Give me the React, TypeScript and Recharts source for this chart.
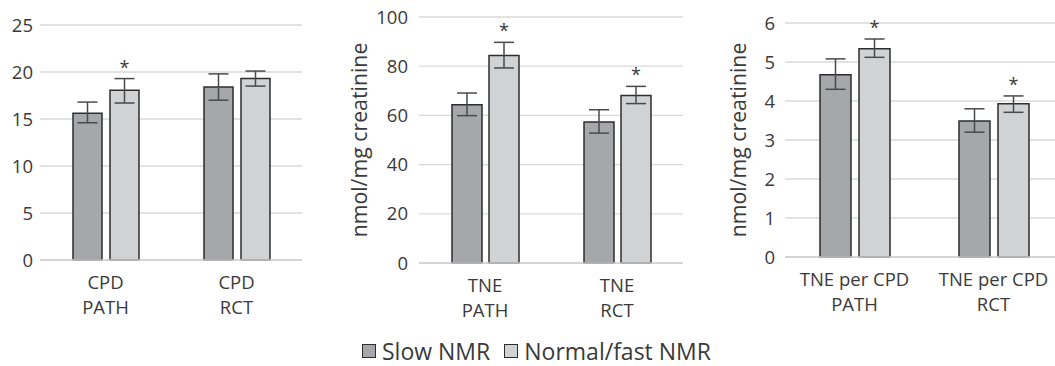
import React from 'react';
import { BarChart, Bar, XAxis, YAxis, CartesianGrid, ErrorBar, LabelList } from 'recharts';

const FONT = '"Open Sans", sans-serif';
const SLOW_COLOR = '#a6a7ab';
const FAST_COLOR = '#d1d2d4';
const EDGE = '#2e2e2e';
const TEXT = '#3a3a3a';

const seriesNames = ['Slow NMR', 'Normal/fast NMR'];

// CPD panel
const cpdCategories = ['CPD\nPATH', 'CPD\nRCT'];
const cpdSlow = [15.6, 18.4];
const cpdSlowErr = [[1.0, 1.2], [1.4, 1.4]];
const cpdFast = [18.05, 19.3];
const cpdFastErr = [[1.35, 1.25], [0.8, 0.8]];
const cpdSig = [true, false];
const cpdTicks = [0, 5, 10, 15, 20, 25];

// TNE panel
const tneCategories = ['TNE\nPATH', 'TNE\nRCT'];
const tneSlow = [64.3, 57.3];
const tneSlowErr = [[4.4, 4.8], [4.5, 5.0]];
const tneFast = [84.3, 68.1];
const tneFastErr = [[5.0, 5.4], [3.3, 3.7]];
const tneSig = [true, true];
const tneTicks = [0, 20, 40, 60, 80, 100];

// TNE per CPD panel
const tpcCategories = ['TNE per CPD\nPATH', 'TNE per CPD\nRCT'];
const tpcSlow = [4.67, 3.49];
const tpcSlowErr = [[0.37, 0.41], [0.29, 0.31]];
const tpcFast = [5.34, 3.93];
const tpcFastErr = [[0.22, 0.25], [0.22, 0.2]];
const tpcSig = [true, true];
const tpcTicks = [0, 1, 2, 3, 4, 5, 6];

type Row = { name: string; slow: number; slowErr: number[]; fast: number; fastErr: number[]; sig: boolean };

const buildRows = (
  cats: string[], slow: number[], slowErr: number[][], fast: number[], fastErr: number[][], sig: boolean[]
): Row[] =>
  cats.map((name, i) => ({ name, slow: slow[i], slowErr: slowErr[i], fast: fast[i], fastErr: fastErr[i], sig: sig[i] }));

const TwoLineTick = (props: any) => {
  const { x, y, payload } = props;
  const lines = String(payload.value).split('\n');
  return (
    <text x={x} y={y} textAnchor="middle" fill={TEXT} fontFamily={FONT} fontSize={18.5}>
      <tspan x={x} dy={21}>{lines[0]}</tspan>
      <tspan x={x} dy={25}>{lines[1]}</tspan>
    </text>
  );
};

// asterisk drawn above the top of the error bar
const Star = (props: any) => {
  const { x, y, width, height, value } = props;
  if (value == null || !isFinite(value)) return null;
  const errTop = y - value * height;
  return (
    <text x={x + width / 2} y={errTop - 5} textAnchor="middle" fill={TEXT} fontFamily={FONT} fontSize={18}>
      *
    </text>
  );
};

const YTitle = (dx: number) => (props: any) => {
  const { viewBox } = props;
  const cx = viewBox.x + dx;
  const cy = viewBox.y + viewBox.height / 2;
  return (
    <text x={cx} y={cy} transform={`rotate(-90, ${cx}, ${cy})`} textAnchor="middle" dominantBaseline="central"
      fill={TEXT} fontFamily={FONT} fontSize={21.3}>
      nmol/mg creatinine
    </text>
  );
};

interface PanelProps {
  rows: Row[];
  ticks: number[];
  left: number;
  width: number;
  yWidth: number;
  top: number;
  bottom: number;
  right: number;
  barSize: number;
  barGap: number;
  tickMargin: number;
  titleX?: number;
}

const Panel: React.FC<PanelProps> = ({ rows, ticks, left, width, yWidth, top, bottom, right, barSize, barGap, tickMargin, titleX }) => (
  <div style={{ position: 'absolute', left, top: 0 }}>
    <BarChart width={width} height={330} data={rows} margin={{ top, right, left: 0, bottom: bottom + 10 }}
      barSize={barSize} barGap={barGap}>
      <CartesianGrid vertical={false} stroke="#d9d9d9" strokeWidth={1.3} />
      <XAxis dataKey="name" height={50} axisLine={{ stroke: '#d0d0d0', strokeWidth: 1.5 }} tickLine={false}
        tick={<TwoLineTick />} interval={0} />
      <YAxis width={yWidth} domain={[0, ticks[ticks.length - 1]]} ticks={ticks} axisLine={false} tickLine={false}
        tickSize={0} tickMargin={tickMargin} interval={0}
        tick={{ fill: TEXT, fontFamily: FONT, fontSize: 18.5 }}
        label={titleX != null ? { content: YTitle(titleX) } : undefined} />
      <Bar dataKey="slow" fill={SLOW_COLOR} stroke={EDGE} strokeWidth={1.5} isAnimationActive={false}>
        <ErrorBar dataKey="slowErr" width={10} stroke="#4a4a4a" strokeWidth={1.5} />
      </Bar>
      <Bar dataKey="fast" fill={FAST_COLOR} stroke={EDGE} strokeWidth={1.5} isAnimationActive={false}>
        <ErrorBar dataKey="fastErr" width={10} stroke="#4a4a4a" strokeWidth={1.5} />
        <LabelList dataKey={(d: any) => (d.sig ? d.fastErr[1] / d.fast : null)} content={<Star />} />
      </Bar>
    </BarChart>
  </div>
);

const LegendBox = ({ color }: { color: string }) => (
  <span style={{ display: 'inline-block', width: 12, height: 12, background: color, border: `1px solid ${EDGE}`, marginRight: 6 }} />
);

export default function App() {
  const cpdRows = buildRows(cpdCategories, cpdSlow, cpdSlowErr, cpdFast, cpdFastErr, cpdSig);
  const tneRows = buildRows(tneCategories, tneSlow, tneSlowErr, tneFast, tneFastErr, tneSig);
  const tpcRows = buildRows(tpcCategories, tpcSlow, tpcSlowErr, tpcFast, tpcFastErr, tpcSig);
  return (
    <div style={{ position: 'absolute', left: 0, top: 0, width: 1055, height: 366, overflow: 'hidden', background: '#fff' }}>
      <Panel rows={cpdRows} ticks={cpdTicks} left={0} width={310} yWidth={40} top={25} bottom={10} right={8}
        barSize={29} barGap={8} tickMargin={7} />
      <Panel rows={tneRows} ticks={tneTicks} left={340} width={350} yWidth={79} top={17} bottom={7} right={7}
        barSize={30} barGap={7} tickMargin={11} titleX={18} />
      <Panel rows={tpcRows} ticks={tpcTicks} left={700} width={370} yWidth={85} top={23} bottom={13} right={7}
        barSize={31} barGap={8} tickMargin={10} titleX={37} />
      <div style={{ position: 'absolute', left: 362, top: 336, display: 'flex', alignItems: 'center',
        fontFamily: FONT, fontSize: 23, lineHeight: '30px', color: TEXT, whiteSpace: 'nowrap' }}>
        <LegendBox color={SLOW_COLOR} />
        <span style={{ marginRight: 14 }}>{seriesNames[0]}</span>
        <LegendBox color={FAST_COLOR} />
        <span>{seriesNames[1]}</span>
      </div>
    </div>
  );
}
